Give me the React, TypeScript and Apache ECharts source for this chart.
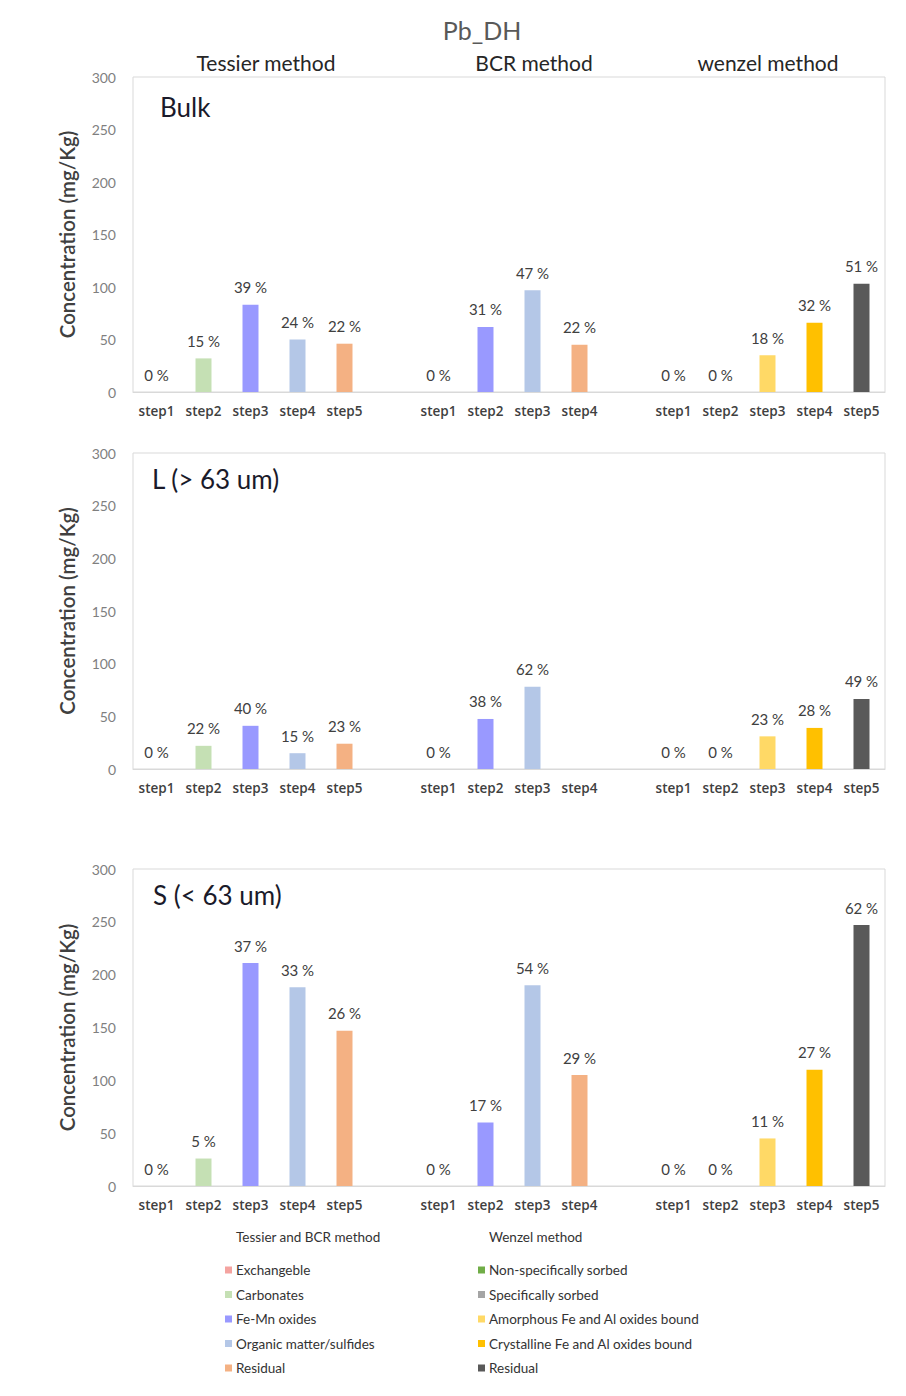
import React, { useEffect, useRef } from 'react';
import * as echarts from 'echarts';

// ---------- data ----------
const categories = [
  'step1', 'step2', 'step3', 'step4', 'step5', '',
  'step1', 'step2', 'step3', 'step4', '',
  'step1', 'step2', 'step3', 'step4', 'step5',
];

const bulkValues = [0, 32, 83, 50, 46, null, 0, 62, 97, 45, null, 0, 0, 35, 66, 103];
const bulkLabels = ['0 %', '15 %', '39 %', '24 %', '22 %', '', '0 %', '31 %', '47 %', '22 %', '', '0 %', '0 %', '18 %', '32 %', '51 %'];

const lValues = [0, 22, 41, 15, 24, null, 0, 47.5, 78, 0, null, 0, 0, 31, 39, 66.5];
const lLabels = ['0 %', '22 %', '40 %', '15 %', '23 %', '', '0 %', '38 %', '62 %', '', '', '0 %', '0 %', '23 %', '28 %', '49 %'];

const sValues = [0, 26, 211, 188, 147, null, 0, 60, 190, 105, null, 0, 0, 45, 110, 247];
const sLabels = ['0 %', '5 %', '37 %', '33 %', '26 %', '', '0 %', '17 %', '54 %', '29 %', '', '0 %', '0 %', '11 %', '27 %', '62 %'];

const panelTitles = ['Bulk', 'L (> 63 um)', 'S (< 63 um)'];
const methodTitles = ['Tessier method', 'BCR method', 'wenzel method'];
const chartTitle = 'Pb_DH';
const yAxisTitle = 'Concentration (mg/Kg)';

const C_EXCH = '#f4a3a0';
const C_CARB = '#c5e0b4';
const C_FEMN = '#9999ff';
const C_ORG = '#b4c7e7';
const C_RES = '#f4b183';
const C_NONSPEC = '#70ad47';
const C_SPEC = '#a5a5a5';
const C_AMOR = '#ffd966';
const C_CRYS = '#ffc000';
const C_WRES = '#595959';

const barColors = [
  C_EXCH, C_CARB, C_FEMN, C_ORG, C_RES, null,
  C_EXCH, C_FEMN, C_ORG, C_RES, null,
  C_NONSPEC, C_SPEC, C_AMOR, C_CRYS, C_WRES,
];

const legendHeaders = ['Tessier and BCR method', 'Wenzel method'];
const tessierLegendNames = ['Exchangeble', 'Carbonates', 'Fe-Mn oxides', 'Organic matter/sulfides', 'Residual'];
const tessierLegendColors = [C_EXCH, C_CARB, C_FEMN, C_ORG, C_RES];
const wenzelLegendNames = ['Non-specifically sorbed', 'Specifically sorbed', 'Amorphous Fe and Al oxides bound', 'Crystalline Fe and Al oxides bound', 'Residual'];
const wenzelLegendColors = [C_NONSPEC, C_SPEC, C_AMOR, C_CRYS, C_WRES];

const yTicks = { min: 0, max: 300, interval: 50 };

// ---------- layout ----------
const FONT = 'Lato';
const gridLeft = 133;
const gridWidth = 752;
const gridTops = [77, 453, 869];
const gridHeights = [315, 316, 317];

export default function App() {
  const ref = useRef<HTMLDivElement>(null);

  useEffect(() => {
    if (!ref.current) return;
    const chart = echarts.init(ref.current, null, { renderer: 'svg' });

    const panels = [
      { values: bulkValues, labels: bulkLabels },
      { values: lValues, labels: lLabels },
      { values: sValues, labels: sLabels },
    ];

    const grids = gridTops.map((t, i) => ({
      left: gridLeft,
      top: t,
      width: gridWidth,
      height: gridHeights[i],
      show: true,
      borderColor: '#d9d9d9',
      borderWidth: 1,
      backgroundColor: 'transparent',
    }));

    const xAxes = panels.map((_, i) => ({
      type: 'category',
      gridIndex: i,
      data: categories,
      axisLine: { lineStyle: { color: '#d9d9d9' } },
      axisTick: { show: false },
      axisLabel: {
        interval: 0,
        margin: 12,
        color: '#404040',
        fontSize: 13.5,
        fontWeight: 600,
        fontFamily: 'Open Sans',
      },
    }));

    const yAxes = panels.map((_, i) => ({
      type: 'value',
      gridIndex: i,
      min: yTicks.min,
      max: yTicks.max,
      interval: yTicks.interval,
      axisLine: { show: false },
      axisTick: { show: false },
      splitLine: { show: false },
      axisLabel: { color: '#7f7f7f', fontSize: 14, margin: 17, fontFamily: FONT },
      name: yAxisTitle,
      nameLocation: 'middle',
      nameGap: 56,
      nameTextStyle: { color: '#404040', fontSize: 20.5, fontWeight: 600, fontFamily: FONT },
    }));

    const series = panels.map((p, i) => ({
      type: 'bar',
      xAxisIndex: i,
      yAxisIndex: i,
      barWidth: 16,
      data: p.values.map((v, j) =>
        v === null ? '-' : { value: v, itemStyle: { color: barColors[j] } }
      ),
      label: {
        show: true,
        position: 'top',
        distance: 10,
        color: '#404040',
        fontSize: 15,
        fontFamily: FONT,
        formatter: (prm: any) => p.labels[prm.dataIndex],
      },
    }));

    const graphic: any[] = [];
    graphic.push({
      type: 'text',
      x: 482,
      y: 30,
      style: { text: chartTitle, fill: '#595959', fontSize: 25, fontFamily: FONT, textAlign: 'center', textVerticalAlign: 'middle' },
    });
    const methodX = [266, 534, 768];
    methodTitles.forEach((t, i) => {
      graphic.push({
        type: 'text',
        x: methodX[i],
        y: 62,
        style: { text: t, fill: '#262626', fontSize: 21, fontFamily: FONT, textAlign: 'center', textVerticalAlign: 'middle' },
      });
    });
    const panelTitleX = [160, 152, 153];
    const panelTitleY = [107, 479, 895];
    panelTitles.forEach((t, i) => {
      graphic.push({
        type: 'text',
        x: panelTitleX[i],
        y: panelTitleY[i],
        style: { text: t, fill: '#1a1a2a', fontSize: 26, fontFamily: FONT, textAlign: 'left', textVerticalAlign: 'middle' },
      });
    });

    const legendCols = [
      { x: 236, names: tessierLegendNames, colors: tessierLegendColors, header: legendHeaders[0] },
      { x: 489, names: wenzelLegendNames, colors: wenzelLegendColors, header: legendHeaders[1] },
    ];
    const legendRowY = [1270, 1294.5, 1319, 1343.5, 1368];
    legendCols.forEach((col) => {
      graphic.push({
        type: 'text',
        x: col.x,
        y: 1237,
        style: { text: col.header, fill: '#333333', fontSize: 13.5, fontFamily: FONT, textAlign: 'left', textVerticalAlign: 'middle' },
      });
      col.names.forEach((n, k) => {
        graphic.push({
          type: 'rect',
          shape: { x: col.x - 11, y: legendRowY[k] - 3.5, width: 7, height: 7 },
          style: { fill: col.colors[k] },
        });
        graphic.push({
          type: 'text',
          x: col.x,
          y: legendRowY[k],
          style: { text: n, fill: '#333333', fontSize: 13.5, fontFamily: FONT, textAlign: 'left', textVerticalAlign: 'middle' },
        });
      });
    });

    chart.setOption({
      animation: false,
      backgroundColor: '#ffffff',
      textStyle: { fontFamily: FONT },
      grid: grids,
      xAxis: xAxes,
      yAxis: yAxes,
      series,
      graphic,
    });

    return () => chart.dispose();
  }, []);

  return (
    <div
      ref={ref}
      style={{ position: 'absolute', left: 0, top: 0, width: 906, height: 1396, background: '#ffffff' }}
    />
  );
}
